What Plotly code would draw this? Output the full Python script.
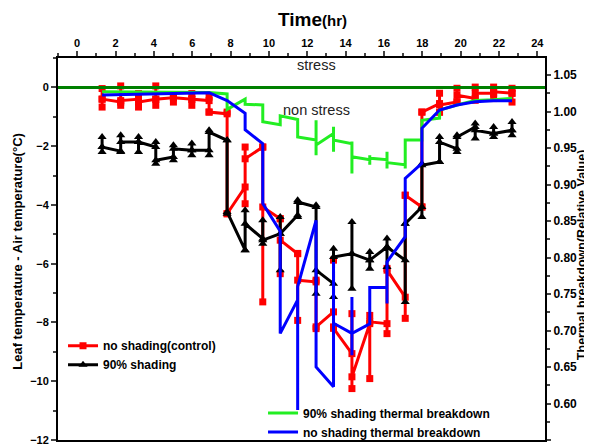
import plotly.graph_objects as go

# ---------------- data ----------------
HOURS = [1.3, 2.27, 3.2, 4.1, 5.02, 5.98, 6.88, 7.82, 8.76, 9.68, 10.59, 11.5,
         12.46, 13.37, 14.33, 15.26, 16.16, 17.11, 17.98, 18.9, 19.81, 20.76, 21.72, 22.68]

# no shading (control): leaf - air temperature, replicate spread per hour
RED_LO = [-0.67, -0.61, -0.67, -0.61, -0.50, -0.61, -0.84, -4.30, -3.96, -7.30, -6.34, -7.93,
          -8.21, -8.15, -10.25, -9.91, -8.38, -7.86, -4.07, -0.85, -0.50, -0.44, -0.38, -0.50]
RED_HI = [-0.04, 0.05, -0.21, 0.05, -0.27, -0.21, -0.33, -0.84, -2.03, -2.03, -4.47, -5.65,
          -6.56, -5.88, -7.70, -7.76, -6.16, -3.67, -0.84, -0.20, -0.03, 0.01, 0.01, -0.03]
RED_IN = [-0.40, -0.50, -0.40, -0.40, -0.35, -0.40, -0.45, -0.90, -3.39, -2.03, -4.47, -5.66,
          -6.62, -7.64, -9.06, -8.04, -8.04, -7.14, -4.07, -0.55, -0.50, -0.38, -0.20, -0.20]
RED_OUT = [-0.40, -0.45, -0.50, -0.40, -0.35, -0.40, -0.84, -4.30, -2.43, -4.07, -5.20, -6.56,
           -8.15, -8.20, -9.85, -7.98, -6.22, -3.67, -0.84, -0.60, -0.27, -0.20, -0.15, -0.20]

# 90% shading: leaf - air temperature
BLACK_LO = [-2.20, -2.20, -2.20, -2.60, -2.48, -2.31, -2.31, -4.30, -5.54, -5.32, -6.22, -4.41,
            -7.02, -7.13, -6.85, -6.17, -6.11, -7.30, -4.41, -2.54, -2.20, -1.74, -1.69, -1.63]
BLACK_HI = [-1.69, -1.63, -1.69, -1.86, -1.97, -1.91, -1.46, -1.80, -4.18, -4.52, -4.41, -3.84,
            -4.01, -5.49, -4.58, -5.60, -5.14, -4.64, -2.60, -1.69, -1.63, -1.23, -1.35, -1.18]
BLACK_IN = [-2.03, -2.17, -1.86, -2.03, -2.37, -2.14, -2.14, -1.80, -5.54, -5.15, -4.98, -4.35,
            -4.07, -6.68, -5.66, -5.88, -5.43, -5.88, -4.07, -2.54, -2.09, -1.35, -1.57, -1.46]
BLACK_OUT = [-2.03, -1.86, -1.86, -2.48, -2.09, -2.14, -1.52, -4.24, -4.64, -5.20, -4.98, -3.90,
             -6.22, -5.77, -5.66, -5.88, -5.43, -4.64, -2.65, -1.86, -1.69, -1.46, -1.57, -1.46]

# 90% shading thermal breakdown (relative value, right axis)
GREEN_HR = [1.3, 2.27, 3.2, 4.1, 5.02, 5.98, 6.88, 7.82, 7.82, 8.76, 8.76, 9.68, 9.68,
            10.59, 10.59, 11.5, 11.5, 12.46, 12.46, 12.46, 12.46, 13.37, 13.37, 13.37, 13.37,
            14.33, 14.33, 14.33, 14.33, 15.26, 15.26, 15.26, 15.26, 16.16, 16.16, 16.16, 16.16,
            17.11, 17.11, 17.11, 17.98, 17.98, 18.9, 18.9, 19.81, 20.76, 21.72, 22.68]
GREEN_R = [1.027, 1.027, 1.027, 1.026, 1.026, 1.026, 1.026, 1.024, 1.003, 1.017, 1.010, 1.009, 0.986,
           0.982, 0.994, 0.989, 0.965, 0.961, 0.988, 0.940, 0.954, 0.970, 0.979, 0.945, 0.961,
           0.956, 0.959, 0.915, 0.938, 0.934, 0.940, 0.927, 0.936, 0.934, 0.945, 0.922, 0.930,
           0.927, 0.922, 0.961, 0.961, 0.988, 0.991, 1.002, 1.009, 1.015, 1.016, 1.018]

# no shading thermal breakdown (relative value, right axis)
BLUE_HR = [1.3, 4.1, 6.88, 7.82, 8.76, 8.76, 9.68, 9.68, 10.59, 10.59, 11.5, 11.5, 11.5,
           12.46, 12.46, 13.37, 13.37, 13.37, 14.33, 14.33, 14.33, 14.33, 15.26, 15.26,
           16.16, 16.16, 16.16, 17.11, 17.11, 17.98, 17.98, 18.9, 19.81, 20.76, 21.72, 22.68]
BLUE_R = [1.0226, 1.024, 1.0258, 1.015, 0.9975, 0.975, 0.956, 0.874, 0.836, 0.696, 0.742, 0.591, 0.760,
          0.851, 0.650, 0.623, 0.794, 0.710, 0.696, 0.746, 0.666, 0.696, 0.709, 0.759,
          0.759, 0.737, 0.794, 0.8285, 0.9085, 0.929, 0.977, 1.002, 1.009, 1.0134, 1.0148, 1.0148]

X_TICKS = list(range(0, 25, 2))
Y_TICKS = list(range(-12, 1, 2))
Y2_TICKS = [0.55, 0.60, 0.65, 0.70, 0.75, 0.80, 0.85, 0.90, 0.95, 1.00, 1.05]


def path(xs, lo, hi, a, b):
    px, py = [], []
    for x, l, h, i, o in zip(xs, lo, hi, a, b):
        px += [x, x, x, x]
        py += [i, h, l, o]
    return px, py


FONT = "Liberation Sans, Arial, sans-serif"

fig = go.Figure()

rx, ry = path(HOURS, RED_LO, RED_HI, RED_IN, RED_OUT)
fig.add_trace(go.Scatter(x=rx, y=ry, mode="lines+markers", name="no shading(control)",
                         line=dict(color="#ff0000", width=3),
                         marker=dict(symbol="square", size=7, color="#ff0000"),
                         legend="legend"))
bx, by = path(HOURS, BLACK_LO, BLACK_HI, BLACK_IN, BLACK_OUT)
fig.add_trace(go.Scatter(x=bx, y=by, mode="lines+markers", name="90% shading",
                         line=dict(color="#000000", width=3),
                         marker=dict(symbol="triangle-up", size=8, color="#000000"),
                         legend="legend"))
fig.add_trace(go.Scatter(x=GREEN_HR, y=GREEN_R, mode="lines", name="90% shading thermal breakdown",
                         line=dict(color="#22ee22", width=3), yaxis="y2", legend="legend2"))
fig.add_trace(go.Scatter(x=BLUE_HR, y=BLUE_R, mode="lines", name="no shading thermal breakdown",
                         line=dict(color="#0000ff", width=3), yaxis="y2", legend="legend2"))

fig.add_shape(type="line", xref="paper", x0=0, x1=1, yref="y", y0=0, y1=0,
              line=dict(color="#008000", width=3), layer="above")

# the page body adds an 8px offset, so the figure is 8px smaller and margins shifted
fig.update_layout(
    width=584, height=439,
    margin=dict(l=50, r=47, t=50, b=7, autoexpand=False),
    paper_bgcolor="white", plot_bgcolor="white",
    font=dict(family=FONT, color="black"),
    showlegend=True,
    xaxis=dict(side="top", range=[-1, 24.4], tickvals=X_TICKS,
               tickfont=dict(size=11, weight="bold"), ticks="outside", ticklen=5, tickwidth=1.5,
               minor=dict(dtick=1, ticks="outside", ticklen=3, tickwidth=1.5),
               showline=True, linecolor="black", linewidth=2, mirror=True,
               showgrid=False, zeroline=False),
    yaxis=dict(range=[-12, 1], tickvals=Y_TICKS,
               tickfont=dict(size=11, weight="bold"), ticks="outside", ticklen=5, tickwidth=1.5,
               minor=dict(dtick=1, ticks="outside", ticklen=3, tickwidth=1.5),
               showline=True, linecolor="black", linewidth=2,
               showgrid=False, zeroline=False),
    yaxis2=dict(range=[0.55, 1.0733], overlaying="y", side="right", tickvals=Y2_TICKS,
                tickformat=".2f", tickfont=dict(size=12, weight="bold"),
                ticks="outside", ticklen=4, tickwidth=1.5,
                minor=dict(dtick=0.025, ticks="outside", ticklen=2.5, tickwidth=1.5),
                showline=True, linecolor="black", linewidth=2,
                showgrid=False, zeroline=False),
    legend=dict(x=0.0103, y=0.285, xanchor="left", yanchor="top", bgcolor="rgba(0,0,0,0)",
                font=dict(size=12, weight="bold"), tracegroupgap=0, itemwidth=30),
    legend2=dict(x=0.421, y=-0.017, xanchor="left", yanchor="bottom", bgcolor="rgba(0,0,0,0)",
                 font=dict(size=12, weight="bold"), tracegroupgap=0, itemwidth=30),
    annotations=[
        dict(text="<b>Time</b><b><span style='font-size:15px'>(hr)</span></b>",
             x=0.5216, y=1.0, xref="paper", yref="paper", xanchor="center", yanchor="bottom",
             yshift=26, showarrow=False, font=dict(size=19)),
        dict(text="stress", x=12.46, y=0.75, xref="x", yref="y", showarrow=False,
             font=dict(size=14.5, color="#222222")),
        dict(text="non stress", x=12.46, y=-0.78, xref="x", yref="y", showarrow=False,
             font=dict(size=14.5, color="#222222")),
        dict(text="<b>Leaf temperature - Air temperature(\u00b0C)</b>", textangle=-90,
             x=-0.1020, y=0.495, xref="paper", yref="paper", xanchor="left", yanchor="middle",
             showarrow=False, font=dict(size=13)),
        dict(text="<b>Thermal breakdown(Relative Value)</b>", textangle=-90,
             x=1.0945, y=0.484, xref="paper", yref="paper", xanchor="right", yanchor="middle",
             showarrow=False, font=dict(size=12.5)),
    ],
)

fig.write_html("out.html")
